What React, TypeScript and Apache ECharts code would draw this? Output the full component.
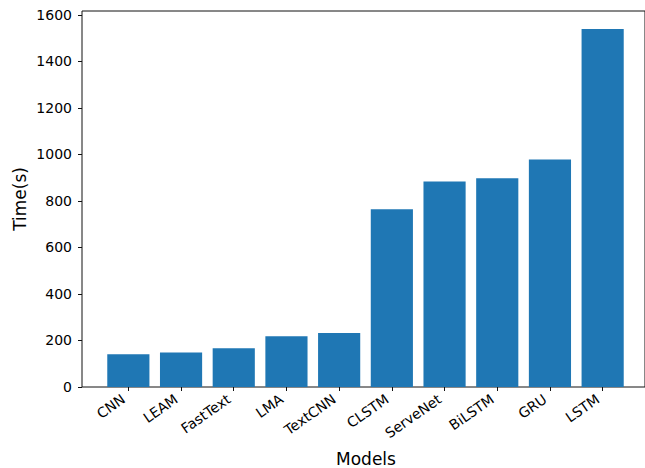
import React, { useEffect, useRef } from "react";
import * as echarts from "echarts";

const models = ["CNN", "LEAM", "FastText", "LMA", "TextCNN", "CLSTM", "ServeNet", "BiLSTM", "GRU", "LSTM"];
const times = [141, 148, 167, 218, 232, 764, 884, 898, 978, 1540];
const yTicks = [0, 200, 400, 600, 800, 1000, 1200, 1400, 1600];
const yMax = 1617;

export default function App() {
  const ref = useRef<HTMLDivElement>(null);
  useEffect(() => {
    if (!ref.current) return;
    const chart = echarts.init(ref.current, null, { renderer: "svg" });
    const font = "DejaVu Sans";
    chart.setOption({
      animation: false,
      backgroundColor: "#ffffff",
      textStyle: { fontFamily: font },
      grid: [
        { left: 82, top: 11, width: 568, height: 376, show: true, borderColor: "#111", borderWidth: 1, backgroundColor: "transparent" },
        { left: 102, top: 11, width: 527, height: 376 },
      ],
      xAxis: [
        {
          gridIndex: 0, type: "value", min: 0, max: 1,
          axisLine: { show: false }, axisTick: { show: false }, axisLabel: { show: false }, splitLine: { show: false },
        },
        {
          gridIndex: 1, type: "category", data: models, boundaryGap: true,
          axisLine: { show: false },
          axisTick: { show: true, alignWithLabel: true, length: 4, lineStyle: { color: "#111", width: 1 } },
          axisLabel: { rotate: 35, margin: 7, padding: [0, 6, 0, 0], fontSize: 14, color: "#000", fontFamily: font, interval: 0 },
          splitLine: { show: false },
        },
      ],
      yAxis: [
        {
          gridIndex: 0, type: "value", min: 0, max: yMax,
          axisLine: { show: false },
          axisTick: { show: true, length: 4, inside: false, customValues: yTicks, lineStyle: { color: "#111", width: 1 } },
          axisLabel: { margin: 10, fontSize: 14, color: "#000", fontFamily: font, customValues: yTicks, formatter: (v: number) => String(v) },
          splitLine: { show: false },
        },
        {
          gridIndex: 1, type: "value", min: 0, max: yMax, show: false,
          splitLine: { show: false },
        },
      ],
      series: [
        {
          type: "bar",
          xAxisIndex: 1,
          yAxisIndex: 1,
          data: times,
          barWidth: "80%",
          itemStyle: { color: "#1f77b4" },
        },
      ],
      graphic: [
        {
          type: "text", x: 366, y: 459,
          style: { text: "Models", fontSize: 17, fontFamily: font, fill: "#000", align: "center", verticalAlign: "middle" },
        },
        {
          type: "text", x: 20, y: 199, rotation: Math.PI / 2,
          style: { text: "Time(s)", fontSize: 17, fontFamily: font, fill: "#000", align: "center", verticalAlign: "middle" },
        },
      ],
    });
    return () => chart.dispose();
  }, []);
  return <div ref={ref} style={{ position: "fixed", left: 0, top: 0, width: 645, height: 468 }} />;
}
